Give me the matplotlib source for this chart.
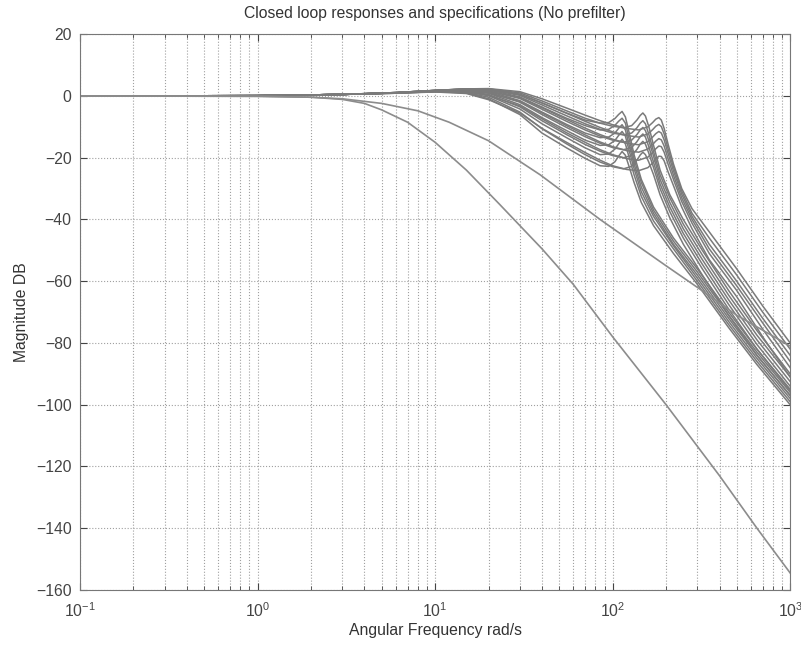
import matplotlib
matplotlib.use('Agg')
from matplotlib import pyplot as plt

plt.rcParams['font.family'] = ['Liberation Sans', 'DejaVu Sans']

# specification curves
spec_freq = [0.1, 1, 2, 3, 5, 8, 12, 20, 39, 85, 200, 311, 500, 1000]
spec_upper = [0, -0.1, -0.4, -0.9, -2.4, -4.8, -8.5, -14.5, -25.5, -40, -55, -62.6, -71, -81]

low_freq = [0.1, 1, 2, 3, 4, 5, 7, 10, 15, 23, 40, 60, 100, 200, 400, 650, 1000]
low_db = [0, -0.1, -0.4, -1.1, -2.4, -4.5, -8.5, -15, -24, -35, -49.5, -61, -78, -100, -123, -140, -154.5]

# bundle of closed loop responses, three groups by resonance frequency
freq_a = [0.1, 1, 3, 6, 10, 15, 20, 30, 40, 55, 70, 85, 95, 103, 108, 113, 118, 124, 132, 145, 170, 220, 300, 450, 650, 1000]
resp_a = [
    [0, 0.1, 0.5, 1.1, 1.8, 2.3, 2.3, 0.6, -2.3, -5.5, -7.8, -8.8, -8.6, -7.3, -6.0, -5.0, -6.8, -12, -19, -27, -36, -46, -56, -70, -82, -95],
    [0, 0.1, 0.5, 1.1, 1.8, 2.2, 2.0, -0.3, -3.6, -7.2, -9.6, -11, -10.8, -9.5, -8.2, -7.2, -8.8, -14, -20.5, -28, -37, -47, -57, -71, -83, -96],
    [0, 0.1, 0.5, 1.0, 1.7, 2.0, 1.5, -1.5, -5.2, -9.2, -12, -13.5, -13.3, -12, -10.5, -9.3, -11, -16, -22, -29.5, -38, -48, -58, -72, -84, -97],
    [0, 0.1, 0.5, 1.0, 1.6, 1.7, 0.9, -2.8, -7.0, -11.2, -14.3, -16, -15.8, -14.4, -12.8, -11.5, -13, -17.8, -23.5, -31, -39, -48.5, -59, -73, -85, -98],
    [0, 0.1, 0.5, 1.0, 1.5, 1.4, 0.1, -4.2, -9.0, -13.5, -16.8, -19, -18.8, -17.2, -15.5, -14, -15.5, -20, -25.5, -32.5, -40.5, -49.5, -60, -74, -86, -99],
    [0, 0.1, 0.5, 0.9, 1.4, 1.0, -0.9, -6.0, -12.0, -16.8, -20.2, -22.6, -22.8, -21.3, -19.5, -18, -19.2, -23, -28, -34.5, -42, -51, -61, -75, -87, -100],
]

freq_b = [0.1, 1, 3, 6, 10, 15, 20, 30, 40, 55, 70, 85, 100, 115, 128, 137, 143, 148, 153, 160, 170, 185, 210, 250, 320, 450, 650, 1000]
resp_b = [
    [0, 0.1, 0.5, 1.1, 1.8, 2.3, 2.3, 1.0, -1.6, -4.8, -7.2, -8.8, -9.8, -10.3, -9.6, -7.8, -6.3, -5.5, -6.5, -10, -16, -24, -32, -40, -50, -63, -76, -90],
    [0, 0.1, 0.5, 1.1, 1.8, 2.2, 2.1, 0.2, -2.9, -6.4, -9.0, -10.8, -12, -12.6, -12, -10.3, -8.8, -8.0, -9, -12.5, -18, -25.5, -33, -41.5, -51.5, -64.5, -77.5, -91],
    [0, 0.1, 0.5, 1.0, 1.7, 2.0, 1.7, -0.8, -4.3, -8.2, -11, -13, -14.3, -15, -14.3, -12.5, -11, -10.2, -11.2, -14.5, -19.5, -27, -34.5, -43, -53, -66, -79, -92.5],
    [0, 0.1, 0.5, 1.0, 1.6, 1.8, 1.2, -2.0, -6.0, -10.2, -13.2, -15.3, -16.7, -17.4, -16.7, -14.8, -13.2, -12.3, -13.3, -16.5, -21.5, -28.5, -36, -44.5, -54.5, -67.5, -80.5, -94],
    [0, 0.1, 0.5, 1.0, 1.5, 1.5, 0.5, -3.5, -8.0, -12.5, -15.7, -17.9, -19.3, -20, -19.3, -17.3, -15.6, -14.7, -15.6, -18.6, -23.2, -30, -37.5, -46, -56, -69, -82, -95.5],
    [0, 0.1, 0.5, 0.9, 1.4, 1.1, -0.4, -5.2, -10.6, -15.5, -19, -21.4, -22.9, -23.6, -22.8, -20.8, -19.1, -18.2, -19, -21.5, -25.5, -32, -39.5, -48, -58, -71, -84, -97],
]

freq_c = [0.1, 1, 3, 6, 10, 15, 20, 30, 40, 55, 70, 85, 100, 120, 140, 158, 168, 175, 182, 188, 195, 205, 220, 245, 280, 350, 500, 700, 1000]
resp_c = [
    [0, 0.1, 0.5, 1.1, 1.8, 2.3, 2.4, 1.4, -0.9, -3.9, -6.2, -8, -9.3, -10.5, -11, -10, -8.6, -7.5, -7.0, -7.8, -10.5, -15.5, -22, -30, -36.5, -44, -56, -68, -80],
    [0, 0.1, 0.5, 1.1, 1.8, 2.2, 2.1, 0.5, -2.2, -5.6, -8.2, -10.2, -11.6, -12.8, -13.3, -12.3, -10.9, -9.8, -9.2, -9.9, -12.3, -17, -23, -30.8, -38, -46, -58, -70, -82],
    [0, 0.1, 0.5, 1.0, 1.7, 2.0, 1.6, -0.6, -3.8, -7.6, -10.4, -12.5, -14, -15.3, -15.8, -14.8, -13.3, -12.2, -11.5, -12, -14.2, -18.5, -24.2, -31.8, -39, -48, -60, -72, -84],
    [0, 0.1, 0.5, 1.0, 1.6, 1.7, 1.0, -1.8, -5.5, -9.6, -12.6, -14.9, -16.4, -17.7, -18.2, -17.2, -15.7, -14.6, -13.8, -14.2, -16.2, -20.2, -25.6, -33, -40, -49.5, -61.5, -73.5, -86],
    [0, 0.1, 0.5, 1.0, 1.5, 1.3, 0.2, -3.2, -7.4, -11.9, -15, -17.4, -19, -20.3, -20.8, -19.8, -18.3, -17.1, -16.2, -16.4, -18.2, -22, -27, -34.2, -41.2, -51, -63, -75.5, -88],
    [0, 0.1, 0.5, 0.9, 1.3, 0.8, -1.2, -5.5, -10.5, -15, -18.3, -20.8, -22.6, -23.8, -24.2, -23.2, -21.7, -20.5, -19.5, -19.6, -21, -24.5, -29, -36, -43, -53, -65, -78, -91],
]

fig = plt.figure(figsize=(8.01, 6.46), dpi=100)
ax = fig.add_axes([0.0999, 0.0867, 0.8866, 0.8603])

line_col = '#7a7a7a'
for freqs, group in ((freq_a, resp_a), (freq_b, resp_b), (freq_c, resp_c)):
    for db in group:
        ax.plot(freqs, db, color=line_col, lw=1.1)

ax.plot(spec_freq, spec_upper, color='#8c8c8c', lw=1.2)
ax.plot(low_freq, low_db, color='#8c8c8c', lw=1.2)

ax.set_xscale('log')
ax.set_xlim(0.1, 1000)
ax.set_ylim(-160, 20)
ax.set_yticks(range(-160, 21, 20))

ax.grid(True, which='major', ls=':', color='#a0a0a0', lw=0.8)
ax.grid(True, which='minor', axis='x', ls=':', color='#a0a0a0', lw=0.8)
ax.tick_params(which='both', direction='in', top=True, right=True,
               colors='#444444', labelsize=11.3)
ax.tick_params(which='major', length=5)
ax.tick_params(which='minor', length=3)
ax.tick_params(axis='x', which='major', pad=8)
ax.tick_params(axis='y', which='major', pad=6)
for s in ax.spines.values():
    s.set_color('#777777')

ax.set_xlabel('Angular Frequency rad/s', fontsize=11.3, color='#333333', labelpad=2)
ax.set_ylabel('Magnitude DB', fontsize=11.3, color='#333333', labelpad=5)
ax.set_title('Closed loop responses and specifications (No prefilter)', fontsize=11.3, color='#333333', pad=12)

fig.savefig('out.png', dpi=100)
